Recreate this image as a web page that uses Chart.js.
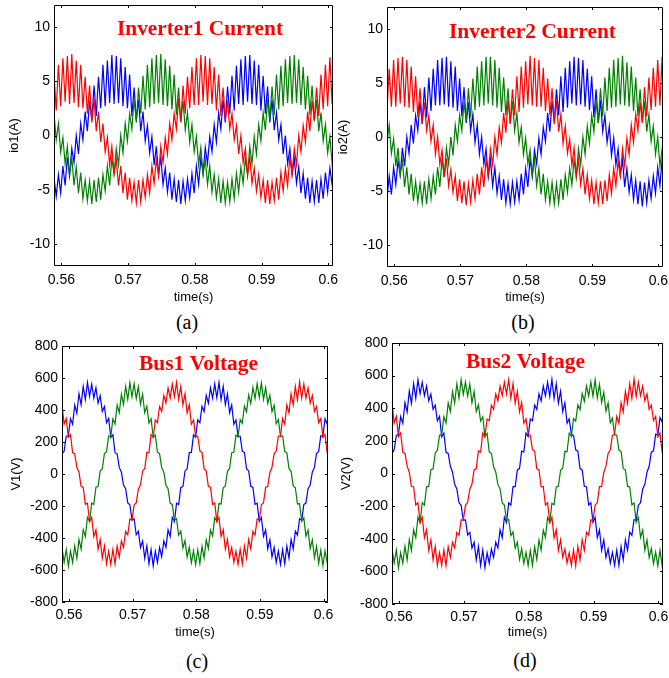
<!DOCTYPE html>
<html><head><meta charset="utf-8">
<script src="https://cdn.jsdelivr.net/npm/chart.js@4"></script>
<style>
body{margin:0;background:#fff;width:669px;height:678px;position:relative;overflow:hidden}
canvas{position:absolute}
.cap{position:absolute;font-family:"Liberation Serif","Times New Roman",serif;font-size:20px;color:#000;transform:translate(-50%,-50%);line-height:1;white-space:nowrap}
</style></head><body>
<div class="cap" style="left:187px;top:322px">(a)</div>
<div class="cap" style="left:523px;top:322px">(b)</div>
<div class="cap" style="left:197px;top:661px">(c)</div>
<div class="cap" style="left:525px;top:660px">(d)</div>
<script>
// ---- data (sample times: T_START + i*T_STEP) ----
const T_START = 0.5589;
const T_STEP = 1/3000;
const X_TICKS = [0.56,0.57,0.58,0.59,0.6];
const X_TICK_LABELS = ['0.56','0.57','0.58','0.59','0.6'];
const I_TICKS = [-10,-5,0,5,10];
const I_TICK_LABELS = ['-10','-5','0','5','10'];
const V_TICKS = [-800,-600,-400,-200,0,200,400,600,800];
const V_TICK_LABELS = ['-800','-600','-400','-200','0','200','400','600','800'];

const RED_A = [5.6,2.3,6.5,2.7,7.1,3.1,7.3,2.9,7.5,3.0,
6.9,2.6,6.5,2.5,5.4,2.0,4.6,1.2,3.4,0.4,
2.2,-0.6,1.1,-1.5,-0.2,-2.7,-1.0,-3.5,-2.2,-4.6,
-2.8,-5.3,-3.4,-5.9,-3.9,-6.0,-4.3,-6.2,-4.1,-6.1,
-4.1,-5.7,-3.6,-5.3,-2.8,-4.4,-2.2,-3.7,-1.0,-2.5,
-0.2,-1.7,1.1,-0.4,2.0,0.6,3.4,1.2,4.6,2.0,
5.4,2.5,6.3,2.8,7.1,2.8,7.4,3.1,7.3,2.8,
7.1,2.9,6.3,2.3,5.6,1.8,4.4,1.4,3.2,0.6,
2.0,-0.4,0.9,-1.7,0.0,-2.5,-1.2,-3.7,-2.0,-4.4,
-3.0,-5.1,-3.6,-5.7,-4.1,-6.2,-4.1,-6.3,-4.3,-6.0,
-3.9,-5.9,-3.4,-5.1,-3.0,-4.6,-2.0,-3.5,-1.2,-2.7,
0.0,-1.5,0.9,-0.6,2.2,0.4,3.2,1.4,4.4,1.8,
5.6,2.4,6.5,2.7,7.2,2.9,7.4];
const BLUE_A = [-3.9,-5.6,-3.6,-5.3,-2.8,-4.6,-2.0,-3.7,-1.2,-2.5,
0.0,-1.7,1.1,-0.4,2.2,0.4,3.2,1.4,4.6,1.8,
5.4,2.5,6.5,2.7,6.9,3.0,7.4,2.9,7.3,3.0,
7.1,2.7,6.3,2.5,5.6,1.8,4.4,1.4,3.3,0.4,
2.2,-0.5,0.9,-1.6,-0.1,-2.7,-1.0,-3.6,-2.0,-4.5,
-3.0,-5.2,-3.4,-5.9,-4.0,-6.1,-4.1,-6.3,-4.2,-6.0,
-4.0,-5.7,-3.5,-5.3,-2.8,-4.5,-2.1,-3.5,-1.1,-2.6,
-0.1,-1.5,1.0,-0.6,2.1,0.6,3.3,1.2,4.5,2.0,
5.5,2.3,6.4,2.9,7.0,2.8,7.3,3.1,7.4,2.9,
6.9,2.8,6.5,2.3,5.5,2.0,4.5,1.2,3.3,0.5,
2.1,-0.4,1.0,-1.7,0.0,-2.6,-1.2,-3.6,-2.1,-4.4,
-2.9,-5.3,-3.5,-5.8,-3.9,-6.2,-4.2,-6.1,-4.1,-6.2,
-4.0,-5.8,-3.4,-5.2,-3.0,-4.5,-2.1];
const GREEN_A = [2.0,-0.4,1.1,-1.5,-0.2,-2.6,-1.0,-3.7,-2.0,-4.6,
-2.9,-5.3,-3.4,-5.8,-4.1,-6.0,-4.2,-6.3,-4.1,-6.1,
-3.9,-5.9,-3.6,-5.1,-2.8,-4.6,-2.1,-3.5,-1.2,-2.7,
0.0,-1.6,1.1,-0.5,2.0,0.6,3.4,1.2,4.4,2.0,
5.5,2.4,6.5,2.6,7.1,2.9,7.4,3.0,7.5,2.8,
7.0,2.7,6.4,2.4,5.6,1.9,4.4,1.3,3.2,0.5,
2.1,-0.6,1.0,-1.5,-0.1,-2.7,-1.1,-3.6,-2.2,-4.5,
-2.8,-5.2,-3.6,-5.7,-4.0,-6.2,-4.2,-6.2,-4.3,-6.1,
-4.0,-5.8,-3.5,-5.2,-2.9,-4.4,-2.1,-3.6,-1.0,-2.6,
-0.1,-1.7,1.0,-0.5,2.1,0.5,3.3,1.4,4.5,1.9,
5.6,2.4,6.4,2.7,7.0,3.0,7.3,2.9,7.4,3.0,
7.0,2.8,6.3,2.4,5.5,1.9,4.6,1.3,3.3,0.4,
2.1,-0.5,1.0,-1.6,-0.1,-2.6,-1.1];

const RED_B = [2.5,6.3,2.8,7.1,2.8,7.3,3.1,7.4,2.8,7.1,
2.7,6.5,2.3,5.6,1.8,4.5,1.4,3.2,0.6,2.0,
-0.4,1.1,-1.6,0.0,-2.5,-1.2,-3.7,-2.0,-4.5,-3.0,
-5.1,-3.6,-5.9,-3.9,-6.1,-4.1,-6.3,-4.3,-6.0,-4.0,
-5.7,-3.4,-5.3,-2.8,-4.6,-2.0,-3.5,-1.1,-2.6,0.0,
-1.6,0.9,-0.5,2.2,0.4,3.4,1.3,4.4,2.0,
5.6,2.3,6.5,2.7,7.0,3.0,7.5,2.9,7.3,2.8,
7.1,2.8,6.4,2.4,5.4,2.0,4.5,1.2,3.4,0.5,
2.1,-0.6,1.0,-1.5,-0.2,-2.6,-1.0,-3.6,-2.1,-4.4,
-2.9,-5.3,-3.5,-5.7,-4.0,-6.2,-4.2,-6.1,-4.1,-6.2,
-4.0,-5.9,-3.5,-5.2,-2.9,-4.5,-2.2,-3.6,-1.1,-2.7,
-0.1,-1.6,1.1,-0.5,2.1,0.6,3.2,1.3,4.6,1.9,
5.5,2.5,6.4,2.8,7.1,2.9,7.4,3.0];
const BLUE_B = [-5.7,-3.6,-5.3,-2.8,-4.4,-2.2,-3.5,-1.0,-2.7,0.0,
-1.5,1.1,-0.6,2.0,0.6,3.3,1.2,4.6,1.8,
5.5,2.4,6.3,2.9,7.1,2.9,7.3,3.0,7.4,2.8,
7.0,2.7,6.5,2.4,5.4,1.9,4.6,1.3,3.2,0.6,
2.1,-0.5,1.1,-1.6,0.0,-2.5,-1.1,-3.7,-2.1,-4.5,
-2.8,-5.2,-3.6,-5.8,-3.9,-6.1,-4.3,-6.2,-4.2,-6.0,
-4.1,-5.8,-3.4,-5.3,-2.9,-4.6,-2.0,-3.6,-1.2,-2.5,
-0.1,-1.6,0.9,-0.4,2.2,0.5,3.3,1.4,4.4,2.0,
5.6,2.3,6.4,2.7,7.0,3.1,7.4,2.9,7.3,3.0,
7.1,2.8,6.3,2.5,5.6,1.8,4.4,1.3,3.4,0.5,
2.0,-0.5,1.0,-1.7,-0.1,-2.6,-1.1,-3.5,-2.1,-4.6,
-2.9,-5.1,-3.5,-5.8,-4.0,-6.2,-4.1,-6.4,-4.2,-6.1,
-4.0,-5.7,-3.6,-5.2,-2.8,-4.5,-2.1,-3.6];
const GREEN_B = [-0.4,1.1,-1.5,-0.2,-2.7,-1.0,-3.5,-2.2,-4.6,-2.8,
-5.3,-3.4,-5.9,-4.1,-6.0,-4.3,-6.1,-4.1,-6.2,-3.9,
-5.7,-3.6,-5.3,-2.8,-4.6,-2.0,-3.7,-1.0,-2.5,0.0,
-1.7,1.1,-0.4,2.0,0.6,3.2,1.4,4.5,1.8,
5.4,2.5,6.5,2.8,7.0,2.9,7.4,3.1,7.4,2.9,
7.1,2.7,6.4,2.3,5.5,2.0,4.5,1.2,3.3,0.6,
2.2,-0.5,0.9,-1.6,-0.1,-2.5,-1.2,-3.6,-2.0,-4.5,
-2.9,-5.3,-3.4,-5.8,-4.1,-6.1,-4.2,-6.2,-4.3,-6.1,
-3.9,-5.8,-3.5,-5.1,-2.9,-4.4,-2.1,-3.7,-1.1,-2.6,
0.0,-1.6,1.0,-0.6,2.0,0.5,3.4,1.3,4.5,1.9,
5.5,2.4,6.4,2.7,7.1,2.8,7.3,3.0,7.5,2.9,
6.9,2.8,6.5,2.4,5.5,1.9,4.4,1.4,3.3,0.5,
2.1,-0.4,1.0,-1.6,0.0,-2.7,-1.1,-3.6];

const BLUE_C = [125,142,236,238,346,311,431,380,502,433,
548,465,572,486,561,474,539,443,490,391,
422,320,347,228,245,133,126,41,11,-69,
-92,-181,-192,-288,-281,-380,-358,-460,-419,-527,
-450,-561,-472,-575,-482,-552,-460,-517,-418,-459,
-349,-391,-271,-298,-183,-191,-84,-78,19,33,
134,135,245,229,338,320,423,390,492,442,
539,473,563,476,573,464,547,434,501,382,
431,312,338,237,236,142,134,33,19,-77,
-84,-190,-183,-297,-272,-390,-349,-468,-410,-518,
-459,-553,-481,-566,-473,-561,-451,-526,-410,-468,
-357,-382,-280,-289,-191,-182,-92,-69,11,41,
128,141,239,236,345,313,427];
const RED_C = [433,312,347,229,245,134,126,42,11,-77,
-84,-190,-183,-297,-271,-391,-348,-469,-409,-527,
-450,-561,-482,-566,-472,-562,-451,-518,-419,-459,
-358,-381,-281,-288,-192,-181,-93,-68,19,33,
135,134,246,228,337,321,422,391,491,443,
538,474,562,485,572,465,548,433,501,381,
432,311,337,238,236,143,135,32,20,-78,
-83,-191,-182,-298,-271,-391,-348,-469,-409,-517,
-460,-552,-482,-565,-472,-562,-450,-527,-409,-469,
-358,-381,-281,-288,-192,-181,-83,-78,10,42,
126,143,236,238,347,311,432,381,501,433,
548,464,577,475,562,474,538,443,491,391,
422,321,347,228,246,133,130];
const GREEN_C = [-460,-552,-472,-575,-482,-552,-450,-527,-409,-469,
-348,-391,-271,-298,-182,-191,-83,-78,20,32,
128,140,238,235,345,313,430,383,499,435,
547,466,571,482,564,472,545,436,499,383,
424,319,345,231,243,136,127,40,12,-70,
-91,-183,-190,-290,-279,-383,-356,-461,-417,-519,
-458,-554,-480,-567,-475,-559,-453,-524,-412,-466,
-351,-388,-274,-295,-185,-188,-86,-75,17,35,
133,136,243,231,340,318,425,388,494,440,
541,471,565,478,569,467,540,441,493,389,
429,314,340,235,238,141,132,35,17,-75,
-86,-188,-185,-295,-274,-388,-351,-466,-412,-524,
-453,-559,-475,-572,-480,-554,-455];

const BLUE_D = [122,145,233,241,349,308,434,377,505,430,
551,462,575,489,558,477,536,446,487,394,
419,323,350,225,248,130,123,44,8,-66,
-95,-178,-195,-285,-284,-377,-361,-457,-422,-530,
-447,-564,-469,-578,-485,-549,-463,-514,-421,-456,
-346,-394,-268,-301,-180,-194,-81,-81,22,30,
137,132,248,226,335,323,420,393,489,445,
536,476,560,473,576,461,550,431,504,379,
434,309,335,240,233,145,137,30,22,-80,
-81,-193,-180,-300,-269,-393,-346,-471,-407,-515,
-462,-550,-484,-563,-470,-564,-448,-529,-407,-471,
-360,-379,-283,-286,-194,-179,-95,-66,8,44,
131,139,241,234,343,315,430];
const RED_D = [436,309,350,226,248,131,123,45,8,-80,
-81,-193,-180,-300,-268,-394,-345,-472,-406,-530,
-447,-564,-485,-563,-469,-565,-448,-515,-422,-456,
-361,-378,-284,-285,-195,-178,-96,-65,22,30,
138,131,249,225,334,324,419,394,488,446,
535,477,559,488,575,462,551,430,504,378,
435,308,334,241,233,146,138,29,23,-81,
-80,-194,-179,-301,-268,-394,-345,-472,-406,-514,
-463,-549,-485,-562,-469,-565,-447,-530,-406,-472,
-361,-378,-284,-285,-195,-178,-80,-81,7,45,
123,146,233,241,350,308,435,378,504,430,
551,461,580,472,559,477,535,446,488,394,
419,324,350,225,249,130,128];
const GREEN_D = [-463,-549,-469,-578,-485,-549,-447,-530,-406,-472,
-345,-394,-268,-301,-179,-194,-80,-81,23,29,
125,143,235,238,348,310,433,380,502,432,
550,463,574,485,561,475,548,433,502,380,
421,322,348,228,246,133,124,43,9,-67,
-94,-180,-193,-287,-282,-380,-359,-458,-420,-527,
-461,-551,-483,-564,-472,-562,-450,-527,-409,-469,
-348,-391,-270,-298,-182,-191,-83,-78,20,32,
136,133,247,227,336,321,421,391,490,443,
537,474,561,474,574,464,546,436,498,383,
432,311,339,236,235,144,136,31,21,-79,
-82,-192,-181,-299,-270,-392,-347,-470,-408,-516,
-460,-552,-482,-566,-471,-563,-452];

// ---- layout / style ----
const XMIN = 0.5589, XMAX = 0.6007;
const TICK_FONT = {family:'"Liberation Sans", Arial, sans-serif', size:14};
const TITLE_FONT = {family:'"Liberation Sans", Arial, sans-serif', size:13};
const PANELS = [
  {left:0, top:0, w:340, h:305, pl:0, pr:7, pt:5, yW:54, xH:39, yt:7, xlp:6, xtp:0,
   ylabel:'io1(A)', yticks:I_TICKS, ylabels:I_TICK_LABELS, ymin:-12, ymax:12,
   title:'Inverter1 Current', tdx:63, tdy:30, tw:166,
   series:[RED_A, GREEN_A, BLUE_A]},
  {left:335, top:0, w:334, h:305, pl:0, pr:6, pt:7, yW:52, xH:38, yt:1, xlp:6, xtp:0,
   ylabel:'io2(A)', yticks:I_TICKS, ylabels:I_TICK_LABELS, ymin:-12, ymax:12,
   title:'Inverter2 Current', tdx:62, tdy:31, tw:167,
   series:[RED_B, GREEN_B, BLUE_B]},
  {left:0, top:335, w:340, h:305, pl:0, pr:12, pt:11, yW:62, xH:38, yt:9, xlp:5, xtp:0,
   ylabel:'V1(V)', yticks:V_TICKS, ylabels:V_TICK_LABELS, ymin:-800, ymax:800,
   title:'Bus1 Voltage', tdx:77, tdy:24, tw:119,
   series:[RED_C, GREEN_C, BLUE_C]},
  {left:335, top:335, w:334, h:305, pl:0, pr:6, pt:8, yW:57, xH:36, yt:4, xlp:5, xtp:0,
   ylabel:'V2(V)', yticks:V_TICKS, ylabels:V_TICK_LABELS, ymin:-800, ymax:800,
   title:'Bus2 Voltage', tdx:74, tdy:25, tw:119,
   series:[RED_D, GREEN_D, BLUE_D]}
];
const COLORS = ['#ff0000', '#008000', '#0000ff'];

const boxPlugin = {
  id:'matlabBox',
  afterDraw(chart, args, opts){
    const {ctx, chartArea:{left,right,top,bottom}} = chart;
    const xs = chart.scales.x, ys = chart.scales.y;
    ctx.save();
    ctx.strokeStyle = '#000'; ctx.lineWidth = 1;
    ctx.beginPath();
    ctx.rect(left+0.5, top+0.5, right-left-1, bottom-top-1);
    ctx.stroke();
    ctx.beginPath();
    xs.ticks.forEach(t=>{
      const px = Math.round(xs.getPixelForValue(t.value))+0.5;
      ctx.moveTo(px, bottom); ctx.lineTo(px, bottom-3);
      ctx.moveTo(px, top); ctx.lineTo(px, top+3);
    });
    ys.ticks.forEach(t=>{
      const py = Math.round(ys.getPixelForValue(t.value))+0.5;
      ctx.moveTo(left, py); ctx.lineTo(left+3, py);
      ctx.moveTo(right, py); ctx.lineTo(right-3, py);
    });
    ctx.stroke();
    if (opts && opts.text){
      ctx.font = 'bold 20px "Liberation Serif", "Times New Roman", serif';
      ctx.fillStyle = '#ff0000';
      ctx.textBaseline = 'alphabetic';
      const w = ctx.measureText(opts.text).width;
      const sx = opts.width ? opts.width / w : 1;
      ctx.translate(left + opts.dx, top + opts.dy);
      ctx.scale(sx, 1);
      ctx.fillText(opts.text, 0, 0);
    }
    ctx.restore();
  }
};

PANELS.forEach((p, idx)=>{
  const cv = document.createElement('canvas');
  cv.width = p.w; cv.height = p.h;
  cv.style.left = p.left+'px'; cv.style.top = p.top+'px';
  cv.style.width = p.w+'px'; cv.style.height = p.h+'px';
  document.body.appendChild(cv);
  const datasets = p.series.map((arr, i)=>({
    data: arr.map((v, k)=>({x: T_START + k*T_STEP, y: v})),
    borderColor: COLORS[i], borderWidth: 1.2, pointRadius: 0, tension: 0, fill:false
  }));
  new Chart(cv.getContext('2d'), {
    type:'line',
    data:{datasets},
    plugins:[boxPlugin],
    options:{
      responsive:false, animation:false, devicePixelRatio:1,
      layout:{padding:{left:p.pl, right:p.pr, top:p.pt, bottom:0}},
      plugins:{legend:{display:false}, tooltip:{enabled:false},
        matlabBox:{text:p.title, dx:p.tdx, dy:p.tdy, width:p.tw}},
      scales:{
        x:{type:'linear', min:XMIN, max:XMAX,
          grid:{display:false, drawTicks:false}, border:{display:false},
          afterBuildTicks:s=>{ s.ticks = X_TICKS.map(v=>({value:v})); },
          afterFit:s=>{ s.height = p.xH; s.paddingLeft = 0; s.paddingRight = 0; },
          ticks:{padding:p.xlp, color:'#000', font:TICK_FONT, maxRotation:0, autoSkip:false,
            callback:(v,i)=>X_TICK_LABELS[i]},
          title:{display:true, text:'time(s)', color:'#000', font:TITLE_FONT, padding:{top:0, bottom:p.xtp}}
        },
        y:{type:'linear', min:p.ymin, max:p.ymax,
          grid:{display:false, drawTicks:false}, border:{display:false},
          afterBuildTicks:s=>{ s.ticks = p.yticks.map(v=>({value:v})); },
          afterFit:s=>{ s.width = p.yW; s.paddingTop = 0; s.paddingBottom = 0; },
          ticks:{padding:4, color:'#000', font:TICK_FONT, autoSkip:false,
            callback:(v,i)=>p.ylabels[i]},
          title:{display:true, text:p.ylabel, color:'#000', font:TITLE_FONT, padding:{top:p.yt, bottom:0}}
        }
      }
    }
  });
});
</script>
</body></html>
